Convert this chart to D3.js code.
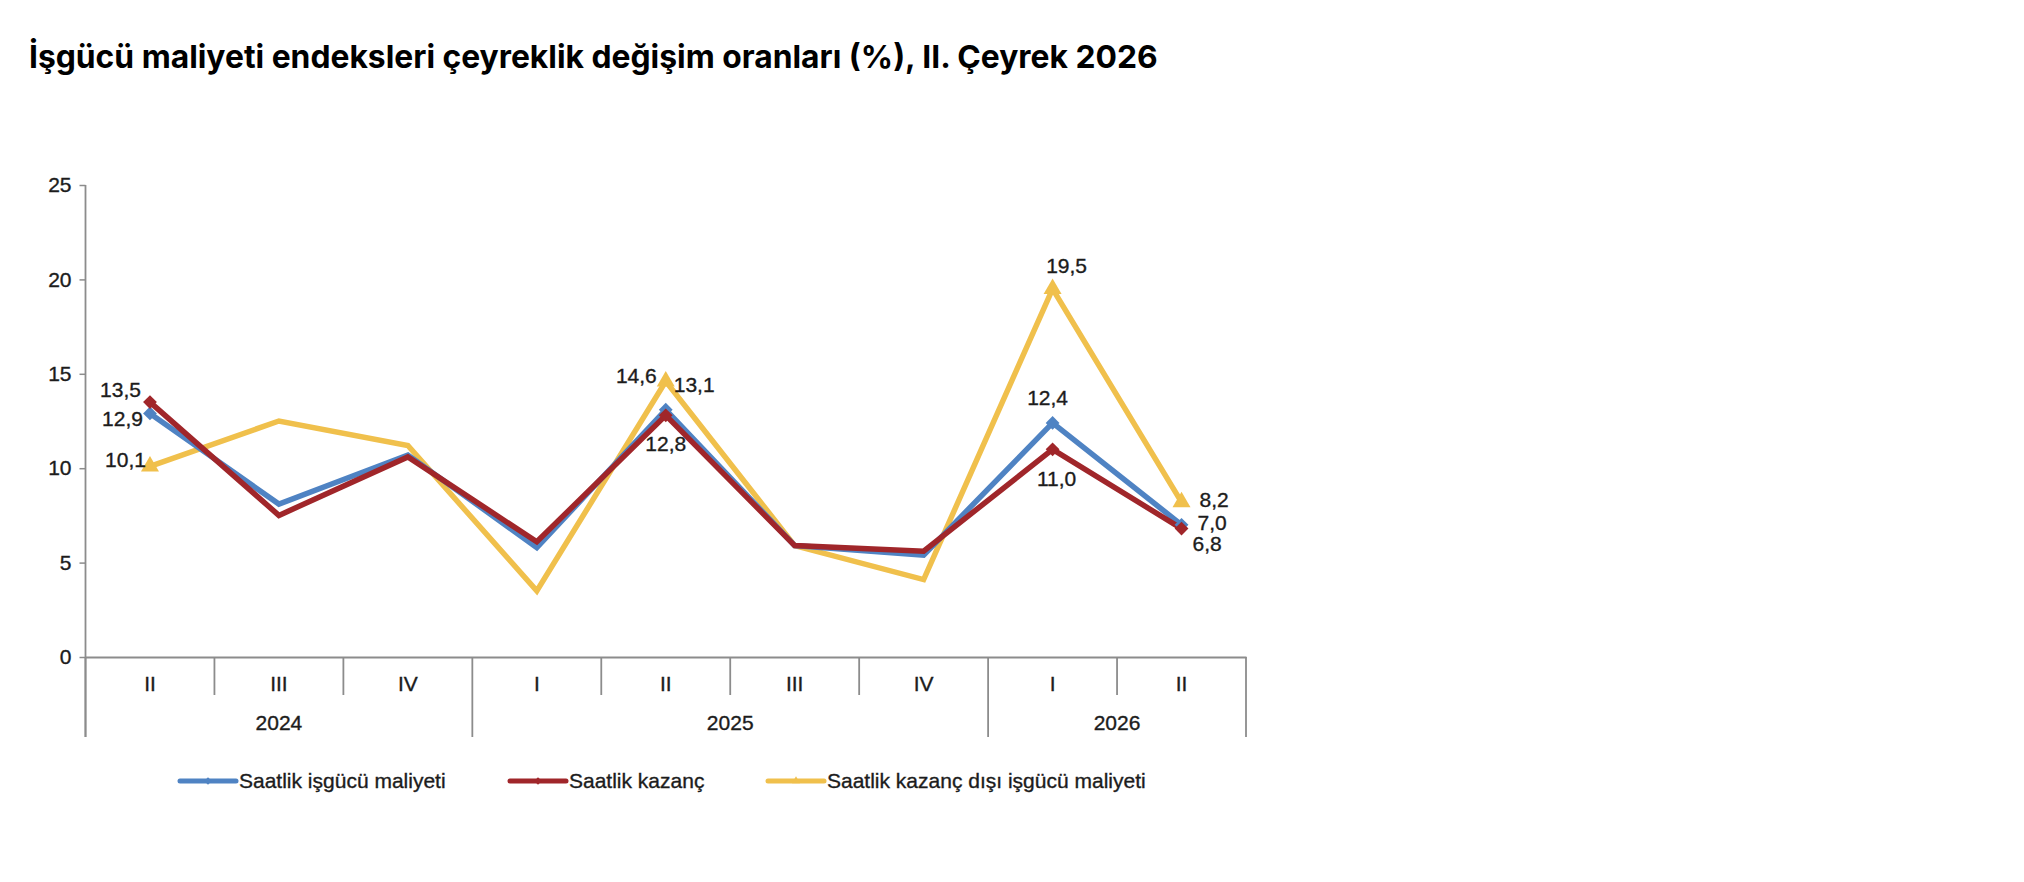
<!DOCTYPE html>
<html>
<head>
<meta charset="utf-8">
<script src="https://cdn.jsdelivr.net/npm/d3@7"></script>
<style>
  html, body { margin: 0; padding: 0; background: #ffffff; }
  svg { display: block; }
</style>
</head>
<body>
<svg id="chart" width="2024" height="882"></svg>
<script>
// ---------- data ----------
const title = "İşgücü maliyeti endeksleri çeyreklik değişim oranları (%), II. Çeyrek 2026";
const quarters = ["II", "III", "IV", "I", "II", "III", "IV", "I", "II"];
const years = ["2024", "2025", "2026"];
const yearQuarterCounts = [3, 4, 2];
const yTicks = [0, 5, 10, 15, 20, 25];
const seriesNames = ["Saatlik işgücü maliyeti", "Saatlik kazanç", "Saatlik kazanç dışı işgücü maliyeti"];
const hourlyLabourCost = [12.9, 8.1, 10.7, 5.8, 13.1, 5.9, 5.4, 12.4, 7.0];
const hourlyEarnings   = [13.5, 7.5, 10.6, 6.1, 12.8, 5.9, 5.6, 11.0, 6.8];
const nonWageLabourCost = [10.1, 12.5, 11.2, 3.5, 14.6, 5.9, 4.1, 19.5, 8.2];
const labelledPoints = [0, 4, 7, 8];

// ---------- presentation ----------
const colors = ["#4F83C3", "#A0262A", "#F0C04C"];
const symbols = ["diamond", "diamond", "triangle"];
// label offsets (dx, dy, anchor) per series per labelled point
const labelPlacement = [
  [[-7, 13, "end"], [8, -18, "start"], [-5, -18, "middle"], [16, 5, "start"]],
  [[-9, -5, "end"], [0, 36, "middle"], [4, 37, "middle"], [11, 22, "start"]],
  [[-4, 1, "end"], [-9, 2, "end"], [14, -16, "middle"], [18, 5, "start"]]
];
const FS = 21;            // chart text size
const chartFont = "'Liberation Sans', Arial, sans-serif";
const textColor = "#1c1c1c";
const axisColor = "#8c8c8c";

(function () {
const svg = d3.select("#chart");

svg.append("text")
  .attr("x", 29).attr("y", 68)
  .attr("font-family", "Inter, 'Liberation Sans', sans-serif")
  .attr("font-weight", 700)
  .attr("font-size", 31.8)
  .attr("fill", "#000")
  .text(title);

const pL = 85.5, pR = 1246, pT = 185, pB = 657;
const x = d3.scaleBand().domain(d3.range(quarters.length)).range([pL, pR]).padding(0);
const y = d3.scaleLinear().domain([0, 25]).range([pB, pT]);

function chartText(g, px, py, str, anchor) {
  return g.append("text")
    .attr("x", px).attr("y", py)
    .attr("text-anchor", anchor)
    .attr("font-family", chartFont)
    .attr("font-size", FS)
    .attr("fill", textColor)
    .attr("stroke", textColor)
    .attr("stroke-width", 0.35)
    .text(str);
}

// y axis
const yAxis = d3.axisLeft(y).tickValues(yTicks).tickSize(6).tickPadding(8).tickSizeOuter(0)
  .tickFormat(d3.format("d"));
const gy = svg.append("g").attr("transform", `translate(${pL},0)`).call(yAxis);
gy.select(".domain").remove();
gy.selectAll(".tick line").attr("stroke", axisColor).attr("stroke-width", 1.5);
gy.selectAll(".tick text")
  .attr("font-family", chartFont)
  .attr("font-size", FS)
  .attr("fill", textColor)
  .attr("stroke", textColor)
  .attr("stroke-width", 0.35);

// axis lines
const axisG = svg.append("g").attr("stroke", axisColor).attr("stroke-width", 1.8);
axisG.append("line").attr("x1", pL).attr("x2", pL).attr("y1", pT).attr("y2", pB + 80);

// x axis (quarters)
const xAxis = d3.axisBottom(x).tickSize(0).tickSizeOuter(0).tickPadding(0)
  .tickFormat(i => quarters[i]);
const gx = svg.append("g").attr("transform", `translate(0,${pB})`).call(xAxis);
gx.select(".domain").attr("stroke", axisColor).attr("stroke-width", 2);
gx.selectAll(".tick text")
  .attr("font-family", chartFont)
  .attr("font-size", FS)
  .attr("fill", textColor)
  .attr("stroke", textColor)
  .attr("stroke-width", 0.35)
  .attr("dy", null)
  .attr("y", 34);

// group boundaries
const boundaries = [0];
yearQuarterCounts.forEach((n, k) => boundaries.push(boundaries[k] + n));
const groupEdges = new Set(boundaries);
d3.range(quarters.length + 1).forEach(b => {
  const bx = b < quarters.length ? x(b) : x(quarters.length - 1) + x.bandwidth();
  axisG.append("line")
    .attr("x1", bx).attr("x2", bx)
    .attr("y1", pB).attr("y2", groupEdges.has(b) ? pB + 80 : pB + 38);
});

// year labels
years.forEach((yr, k) => {
  const x0 = x(boundaries[k]);
  const lastIdx = boundaries[k + 1] - 1;
  const x1 = x(lastIdx) + x.bandwidth();
  chartText(svg, (x0 + x1) / 2, pB + 73, yr, "middle");
});

// lines
const allSeries = [hourlyLabourCost, hourlyEarnings, nonWageLabourCost];
const line = d3.line().x((d, i) => x(i) + x.bandwidth() / 2).y(d => y(d));
const symbolGen = {
  diamond: d3.symbol().type(d3.symbolSquare).size(95),
  triangle: d3.symbol().type(d3.symbolTriangle).size(140)
};
const drawOrder = [2, 0, 1];
drawOrder.forEach(s => {
  svg.append("path")
    .datum(allSeries[s])
    .attr("d", line)
    .attr("fill", "none")
    .attr("stroke", colors[s])
    .attr("stroke-width", 5.5)
    .attr("stroke-linejoin", "miter")
    .attr("stroke-miterlimit", 10);
});
drawOrder.forEach(s => {
  labelledPoints.forEach(i => {
    const px = x(i) + x.bandwidth() / 2, py = y(allSeries[s][i]);
    const rot = symbols[s] === "diamond" ? " rotate(45)" : "";
    svg.append("path")
      .attr("d", symbolGen[symbols[s]]())
      .attr("transform", `translate(${px},${py})${rot}`)
      .attr("fill", colors[s]);
  });
});

// data labels
const fmt = v => d3.format(".1f")(v).replace(".", ",");
allSeries.forEach((vals, s) => {
  labelledPoints.forEach((i, k) => {
    const [dx, dy, anchor] = labelPlacement[s][k];
    const px = x(i) + x.bandwidth() / 2, py = y(vals[i]);
    chartText(svg, px + dx, py + dy, fmt(vals[i]), anchor);
  });
});

// legend
const legendX = [180, 510, 768];
const legendY = 781;
seriesNames.forEach((name, s) => {
  const lx = legendX[s];
  svg.append("line")
    .attr("x1", lx).attr("x2", lx + 56)
    .attr("y1", legendY).attr("y2", legendY)
    .attr("stroke", colors[s]).attr("stroke-width", 5).attr("stroke-linecap", "round");
  svg.append("path")
    .attr("d", d3.symbol().type(symbols[s] === "diamond" ? d3.symbolSquare : d3.symbolTriangle).size(28)())
    .attr("transform", `translate(${lx + 28},${legendY})${symbols[s] === "diamond" ? " rotate(45)" : ""}`)
    .attr("fill", colors[s]);
  chartText(svg, lx + 59, legendY + 7, name, "start");
});
})();
</script>
</body>
</html>
